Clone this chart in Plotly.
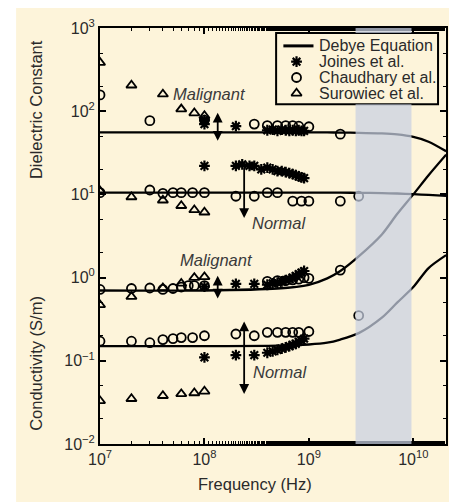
import numpy as np
import plotly.graph_objects as go

# ---------------- data ----------------
# Debye equation curves
debye_f = [1e7, 1e8, 5e8, 1e9, 1.5e9, 2e9, 3e9, 5e9, 7e9, 1e10, 1.4e10, 2.06e10]
debye_eps_malignant = [55.6, 55.6, 55.6, 55.6, 55.5, 55.4, 55.0, 54.0, 52.5, 49.0, 43.0, 33.0]
debye_eps_normal = [10.5, 10.5, 10.5, 10.5, 10.5, 10.48, 10.45, 10.35, 10.25, 10.05, 9.85, 9.6]
debye_sig_malignant = [0.7, 0.7, 0.74, 0.82, 0.98, 1.2, 1.8, 3.3, 5.8, 10.0, 17.0, 30.0]
debye_sig_normal = [0.15, 0.15, 0.152, 0.157, 0.165, 0.18, 0.215, 0.33, 0.5, 0.77, 1.3, 1.86]

# Joines et al.
joines_eps_mal_f = [1e8, 1e8, 2e8, 4e8, 4.5e8, 5e8, 5.5e8, 6e8, 6.5e8, 7e8, 7.5e8, 8e8, 8.5e8, 9e8]
joines_eps_mal = [70, 78, 66, 59, 60, 58, 60, 59, 58, 59, 58, 59, 58, 58]
joines_eps_nor_f = [1e8, 2e8, 2.3e8, 2.7e8, 3e8, 3.5e8, 4e8, 4.5e8, 5e8, 5.5e8, 6e8, 6.5e8, 7e8, 7.5e8, 8e8, 8.5e8, 9e8]
joines_eps_nor = [22, 22, 23, 22, 22, 20, 21, 20, 19, 19, 18.5, 18, 17.5, 17, 16.5, 16, 15.7]
joines_sig_mal_f = [1e8, 2e8, 3e8, 4e8, 4.5e8, 5e8, 5.5e8, 6e8, 6.5e8, 7e8, 7.5e8, 8e8, 8.5e8, 9e8]
joines_sig_mal = [0.78, 0.84, 0.84, 0.82, 0.85, 0.87, 0.9, 0.93, 0.96, 1.0, 1.05, 1.1, 1.15, 1.2]
joines_sig_nor_f = [1e8, 2e8, 3e8, 4e8, 4.5e8, 5e8, 5.5e8, 6e8, 6.5e8, 7e8, 7.5e8, 8e8, 8.5e8, 9e8]
joines_sig_nor = [0.11, 0.117, 0.117, 0.125, 0.13, 0.135, 0.14, 0.145, 0.15, 0.155, 0.16, 0.17, 0.175, 0.185]

# Chaudhary et al.
chaud_eps_mal_f = [1e7, 3e7, 1e8, 3e8, 4e8, 5e8, 6e8, 7e8, 8e8, 1e9, 2e9]
chaud_eps_mal = [157, 77, 78, 70, 67, 67, 67, 67, 66, 65, 53]
chaud_eps_nor_f = [1e7, 3e7, 4e7, 5e7, 6e7, 7.7e7, 1e8, 2e8, 3e8, 4e8, 5e8, 7e8, 8.5e8, 1e9, 2e9, 3e9]
chaud_eps_nor = [10.5, 11.3, 10.3, 10.5, 10.5, 10.5, 10.5, 9.5, 9.5, 10.5, 10.5, 8.3, 8.3, 8.3, 8.3, 9.5]
chaud_sig_mal_f = [1e7, 2e7, 3e7, 4e7, 5e7, 6e7, 7e7, 8e7, 1e8, 4e8, 5e8, 6e8, 7e8, 8e8, 9e8, 1e9, 2e9]
chaud_sig_mal = [0.72, 0.74, 0.75, 0.72, 0.74, 0.77, 0.8, 0.8, 0.8, 0.9, 0.92, 0.92, 0.94, 0.96, 1.0, 0.98, 1.23]
chaud_sig_nor_f = [1e7, 2e7, 3e7, 4e7, 5e7, 6e7, 7.7e7, 1e8, 2e8, 3e8, 4e8, 5e8, 6e8, 7e8, 8e8, 1e9, 3e9]
chaud_sig_nor = [0.172, 0.172, 0.165, 0.18, 0.185, 0.19, 0.19, 0.2, 0.21, 0.2, 0.22, 0.22, 0.22, 0.22, 0.22, 0.225, 0.35]

# Surowiec et al.
surow_f = [1e7, 2e7, 4e7, 6e7, 8e7, 1e8]
surow_eps_mal = [384, 205, 160, 106, 95, 88]
surow_eps_nor = [11, 9.3, 8.5, 7.3, 6.5, 6.1]
surow_sig_mal = [0.47, 0.59, 0.75, 0.85, 1.0, 1.02]
surow_sig_nor = [0.033, 0.035, 0.038, 0.040, 0.041, 0.043]

# Malignant / Normal arrows: frequency, lower value, upper value
arrow_f = [1.34e8, 2.4e8, 1.34e8, 2.4e8]
arrow_lo = [44, 5.2, 0.56, 0.040]
arrow_hi = [100, 22, 1.1, 0.31]
arrow_sides = ["end+start", "end", "end+start", "end+start"]

# Shaded band (Hz)
band_f = [2.8e9, 9.6e9]

legend_names = ["Debye Equation", "Joines et al.", "Chaudhary et al.", "Surowiec et al."]

x_ticks = [1e7, 1e8, 1e9, 1e10]
x_tick_text = ["10<sup>7</sup>", "10<sup>8</sup>", "10<sup>9</sup>", "10<sup>10</sup>"]
y_ticks = [1e-2, 1e-1, 1e0, 1e1, 1e2, 1e3]
y_tick_text = ["10<sup>−2</sup>", "10<sup>−1</sup>", "10<sup>0</sup>", "10<sup>1</sup>", "10<sup>2</sup>", "10<sup>3</sup>"]

# ---------------- styling ----------------
CREAM = "#fdf4da"
TXT = "#2a2a2a"
FONT = "Liberation Sans, Arial, sans-serif"
BAND = "rgb(200,208,226)"

star = dict(symbol="asterisk-open", size=9, color="black", line=dict(color="black", width=2.2))
circ = dict(symbol="circle-open", size=9, color="black", line=dict(color="black", width=1.8))
tri = dict(symbol="triangle-up-open", size=9, color="black", line=dict(color="black", width=1.8))

fig = go.Figure()

for c in [debye_eps_malignant, debye_eps_normal, debye_sig_malignant, debye_sig_normal]:
    fig.add_trace(go.Scatter(
        x=debye_f, y=c, mode="lines", line=dict(color="black", width=2.3, shape="spline", smoothing=0.8),
        name=legend_names[0], showlegend=False))

joines = [(joines_eps_mal_f, joines_eps_mal), (joines_eps_nor_f, joines_eps_nor),
          (joines_sig_mal_f, joines_sig_mal), (joines_sig_nor_f, joines_sig_nor)]
for fx, fy in joines:
    fig.add_trace(go.Scatter(x=fx, y=fy, mode="markers", marker=star, name=legend_names[1], showlegend=False))

chaud = [(chaud_eps_mal_f, chaud_eps_mal), (chaud_eps_nor_f, chaud_eps_nor),
         (chaud_sig_mal_f, chaud_sig_mal), (chaud_sig_nor_f, chaud_sig_nor)]
for fx, fy in chaud:
    fig.add_trace(go.Scatter(x=fx, y=fy, mode="markers", marker=circ, name=legend_names[2], showlegend=False))

for fy in [surow_eps_mal, surow_eps_nor, surow_sig_mal, surow_sig_nor]:
    fig.add_trace(go.Scatter(x=surow_f, y=fy, mode="markers", marker=tri, name=legend_names[3], showlegend=False))

# ---------------- legend box (drawn manually for compact rows) ----------------
LX0, LX1, LY0, LY1 = 0.509, 0.977, 0.817, 0.988
row_y = [0.957, 0.919, 0.881, 0.843]
key_x = 0.568
text_x = 0.626

fig.add_shape(type="rect", xref="paper", yref="paper", x0=LX0, x1=LX1, y0=LY0, y1=LY1,
              fillcolor=CREAM, line=dict(color="black", width=2), layer="below")
fig.add_shape(type="line", xref="paper", yref="paper", x0=0.530, x1=0.617, y0=row_y[0], y1=row_y[0],
              line=dict(color="black", width=3), layer="above")
for mk, ry in zip([star, circ, tri], row_y[1:]):
    fig.add_trace(go.Scatter(x=[key_x], y=[ry], xaxis="x2", yaxis="y2", mode="markers",
                             marker=mk, showlegend=False, hoverinfo="skip"))
for name, ry in zip(legend_names, row_y):
    fig.add_annotation(x=text_x, y=ry, xref="paper", yref="paper", text=name, showarrow=False,
                       xanchor="left", yanchor="middle", font=dict(family=FONT, size=16, color=TXT))

# shaded band drawn on top (semi-transparent), interrupted by the legend box
fig.add_shape(type="rect", xref="x", yref="paper", x0=band_f[0], x1=band_f[1], y0=0, y1=LY0,
              fillcolor=BAND, opacity=0.72, line_width=0, layer="above")
fig.add_shape(type="rect", xref="x", yref="paper", x0=band_f[0], x1=band_f[1], y0=LY1, y1=1,
              fillcolor=BAND, opacity=0.72, line_width=0, layer="above")

# white strip at far left of the picture
fig.add_shape(type="rect", xref="paper", yref="paper", x0=-0.30, x1=-0.2425, y0=-0.3, y1=1.1,
              fillcolor="white", line_width=0, layer="below")

# arrows
for f, lo, hi, side in zip(arrow_f, arrow_lo, arrow_hi, arrow_sides):
    lx = float(np.log10(f))
    fig.add_annotation(x=lx, y=float(np.log10(lo)), ax=lx, ay=float(np.log10(hi)),
                       xref="x", yref="y", axref="x", ayref="y", text="", showarrow=True,
                       arrowhead=2, arrowsize=1.1, arrowwidth=1.8, arrowcolor="black",
                       arrowside=side, standoff=0, startstandoff=0)

# labels
labels = [("Malignant", 8.05, 2.204), ("Normal", 8.716, 0.66),
          ("Malignant", 8.117, 0.209), ("Normal", 8.725, -1.133)]
for t, lx, ly in labels:
    fig.add_annotation(x=lx, y=ly, xref="x", yref="y", text=f"<i>{t}</i>", showarrow=False,
                       xanchor="center", yanchor="middle",
                       font=dict(family=FONT, size=16.5, color="#3a3a3a"))

# axis titles
fig.add_annotation(x=0.449, y=-0.097, xref="paper", yref="paper", text="Frequency (Hz)",
                   xanchor="center", yanchor="middle",
                   showarrow=False, font=dict(family=FONT, size=16.5, color=TXT))
fig.add_annotation(x=-0.185, y=0.805, xref="paper", yref="paper", text="Dielectric Constant",
                   xanchor="center", yanchor="middle",
                   textangle=-90, showarrow=False, font=dict(family=FONT, size=16.5, color=TXT))
fig.add_annotation(x=-0.185, y=0.195, xref="paper", yref="paper", text="Conductivity (S/m)",
                   xanchor="center", yanchor="middle",
                   textangle=-90, showarrow=False, font=dict(family=FONT, size=16.5, color=TXT))

axis_common = dict(showline=True, linecolor="black", linewidth=2, mirror="allticks",
                   ticks="inside", ticklen=6, tickwidth=1.5, tickcolor="black",
                   showgrid=False, zeroline=False,
                   tickfont=dict(family=FONT, size=16, color=TXT),
                   minor=dict(ticks="inside", ticklen=3, tickwidth=1, tickcolor="black", showgrid=False))

fig.update_xaxes(type="log", range=[7, 10.313], tickvals=x_ticks, ticktext=x_tick_text, **axis_common)
fig.update_yaxes(type="log", range=[-2, 3], tickvals=y_ticks, ticktext=y_tick_text, **axis_common)

fig.update_layout(
    xaxis2=dict(overlaying="x", range=[0, 1], visible=False, fixedrange=True),
    yaxis2=dict(overlaying="y", range=[0, 1], visible=False, fixedrange=True),
)

# the page body adds an 8px offset, so the figure is 8px smaller than the window
fig.update_layout(
    width=449, height=494,
    margin=dict(l=92, r=9, t=15, b=58),
    paper_bgcolor=CREAM, plot_bgcolor=CREAM,
    font=dict(family=FONT, size=16, color=TXT),
    showlegend=False,
)

fig.write_html("out.html")
